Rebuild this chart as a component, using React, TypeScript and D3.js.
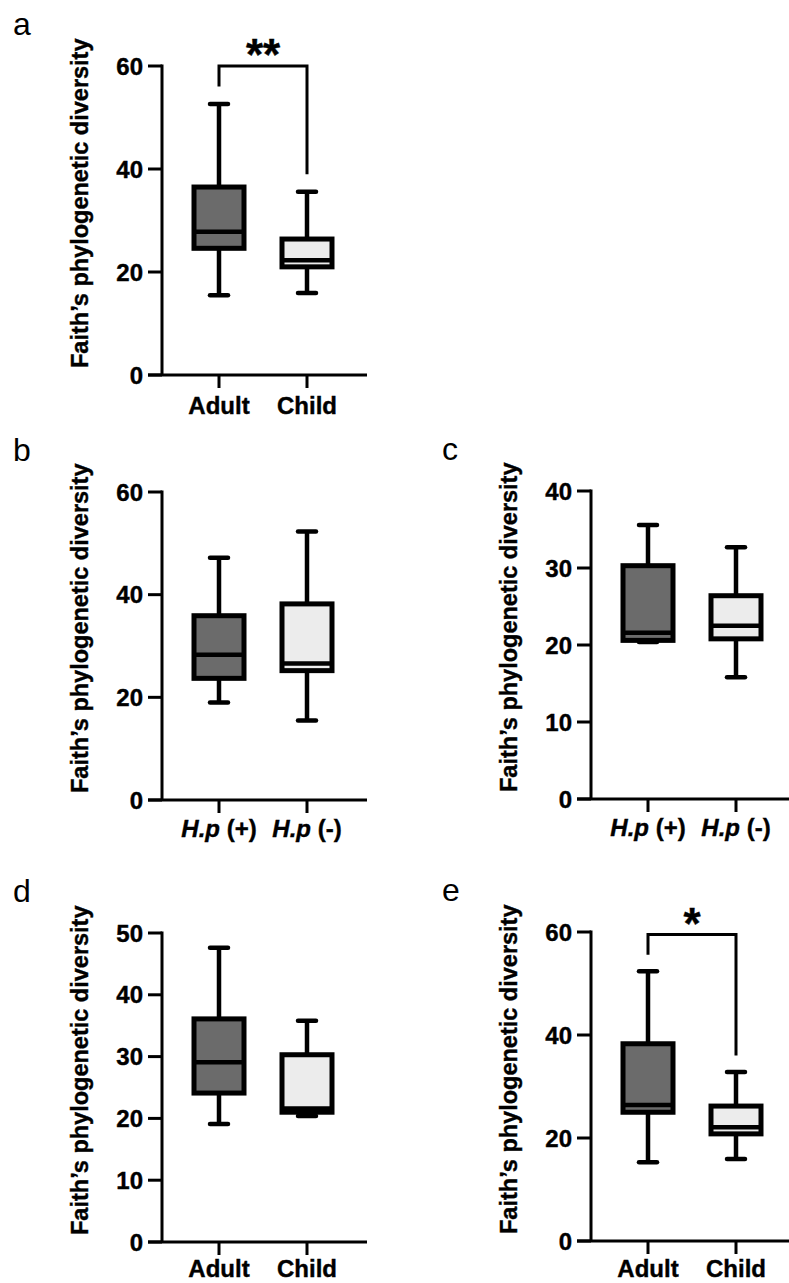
import { useEffect, useRef } from 'react'
import * as d3 from 'd3'

// box stats: [min, q1, median, q3, max]
const ageGroups = ['Adult', 'Child']
const hpGroups = ['H.p (+)', 'H.p (-)']

const statsA = [[15.5, 24.6, 27.8, 36.5, 52.6], [15.9, 21.0, 22.3, 26.4, 35.6]]
const statsB = [[19.0, 23.7, 28.3, 35.9, 47.2], [15.5, 25.2, 26.6, 38.2, 52.3]]
const statsC = [[20.4, 20.6, 21.6, 30.3, 35.6], [15.8, 20.8, 22.5, 26.4, 32.7]]
const statsD = [[19.1, 24.1, 29.1, 36.1, 47.6], [20.4, 21.0, 21.6, 30.3, 35.8]]
const statsE = [[15.3, 25.0, 26.4, 38.3, 52.4], [15.9, 20.8, 22.1, 26.2, 32.8]]

const ticks60 = [0, 20, 40, 60]
const ticks40 = [0, 10, 20, 30, 40]
const ticks50 = [0, 10, 20, 30, 40, 50]

// significance brackets: [bar level, left leg end, right leg end]
const sigA = { level: [60, 56, 39], text: '**' }
const sigE = { level: [59.5, 55.6, 36], text: '*' }

const fills = ['#6b6b6b', '#ececec']
const FONT = 'Liberation Sans, Arial, Helvetica, sans-serif'
const W = 789, H = 1283

type Panel = {
  letter: string
  ax: number
  top: number
  bottom: number
  ticks: number[]
  groups: string[]
  stats: number[][]
  italic: boolean
  sig?: { level: number[]; text: string }
}

const panels: Panel[] = [
  { letter: 'a', ax: 162, top: 66, bottom: 375, ticks: ticks60, groups: ageGroups, stats: statsA, italic: false, sig: sigA },
  { letter: 'b', ax: 162, top: 492, bottom: 800, ticks: ticks60, groups: hpGroups, stats: statsB, italic: true },
  { letter: 'c', ax: 591, top: 491, bottom: 799, ticks: ticks40, groups: hpGroups, stats: statsC, italic: true },
  { letter: 'd', ax: 162, top: 933, bottom: 1242, ticks: ticks50, groups: ageGroups, stats: statsD, italic: false },
  { letter: 'e', ax: 591, top: 932, bottom: 1241, ticks: ticks60, groups: ageGroups, stats: statsE, italic: false, sig: sigE },
]

// bold text in the figure is a bit heavier than Liberation Bold
const heavy = (t: d3.Selection<any, any, any, any>) =>
  t.attr('font-family', FONT).attr('font-weight', 'bold')
    .attr('stroke', '#000').attr('stroke-width', 0.4)

function drawPanel(svg: d3.Selection<SVGSVGElement, unknown, null, undefined>, p: Panel) {
  const g = svg.append('g')
  const yMax = p.ticks[p.ticks.length - 1]
  const y = d3.scaleLinear().domain([0, yMax]).range([p.bottom, p.top])
  const x = d3.scalePoint<string>().domain(p.groups).range([p.ax + 57, p.ax + 145])

  // panel letter
  g.append('text')
    .attr('x', p.ax - 149)
    .attr('y', p.top - 31)
    .attr('font-family', FONT)
    .attr('font-size', 32)
    .text(p.letter)

  // y axis label
  g.append('text')
    .attr('transform', `translate(${p.ax - 74},${p.bottom - 7}) rotate(-90)`)
    .attr('font-size', 23.5)
    .call(heavy)
    .text('Faith\u2019s phylogenetic diversity')

  // axes
  g.append('line')
    .attr('x1', p.ax).attr('x2', p.ax)
    .attr('y1', y(yMax) - 1.5).attr('y2', p.bottom)
    .attr('stroke', '#000').attr('stroke-width', 3)
  g.append('line')
    .attr('x1', p.ax - 14).attr('x2', p.ax + 205)
    .attr('y1', p.bottom).attr('y2', p.bottom)
    .attr('stroke', '#000').attr('stroke-width', 3)

  g.selectAll('.ytick')
    .data(p.ticks)
    .enter().append('line')
    .attr('x1', p.ax - 14).attr('x2', p.ax)
    .attr('y1', d => y(d)).attr('y2', d => y(d))
    .attr('stroke', '#000').attr('stroke-width', 3)

  g.selectAll('.ylab')
    .data(p.ticks)
    .enter().append('text')
    .attr('x', p.ax - 19)
    .attr('y', d => y(d))
    .attr('dy', '0.36em')
    .attr('text-anchor', 'end')
    .attr('font-size', 24)
    .call(heavy)
    .text(d => d)

  g.selectAll('.xtick')
    .data(p.groups)
    .enter().append('line')
    .attr('x1', d => x(d)!).attr('x2', d => x(d)!)
    .attr('y1', p.bottom).attr('y2', p.bottom + 13)
    .attr('stroke', '#000').attr('stroke-width', 3)

  // keep the bottom row's labels inside the picture
  const labelY = Math.min(p.bottom + (p.italic ? 37 : 39), H - 6)
  const xl = g.selectAll('.xlab')
    .data(p.groups)
    .enter().append('text')
    .attr('x', d => x(d)!)
    .attr('y', labelY)
    .attr('text-anchor', 'middle')
    .attr('font-size', 24)
    .call(heavy)
  if (p.italic) {
    xl.append('tspan').attr('font-style', 'italic').text(d => d.split(' ')[0])
    xl.append('tspan').text(d => ' ' + d.split(' ')[1])
  } else {
    xl.text(d => d)
  }

  // boxes
  p.groups.forEach((grp, i) => {
    const [mn, q1, md, q3, mx] = p.stats[i]
    const cx = x(grp)!
    const bw = 25
    g.append('line')
      .attr('x1', cx).attr('x2', cx).attr('y1', y(mx)).attr('y2', y(mn))
      .attr('stroke', '#000').attr('stroke-width', 4.5)
    g.selectAll(null)
      .data([mn, mx])
      .enter().append('line')
      .attr('x1', cx - 9).attr('x2', cx + 9)
      .attr('y1', d => y(d)).attr('y2', d => y(d))
      .attr('stroke', '#000').attr('stroke-width', 4.5).attr('stroke-linecap', 'round')
    g.append('rect')
      .attr('x', cx - bw).attr('width', bw * 2)
      .attr('y', y(q3)).attr('height', y(q1) - y(q3))
      .attr('fill', fills[i]).attr('stroke', '#000').attr('stroke-width', 5)
    g.append('line')
      .attr('x1', cx - bw).attr('x2', cx + bw).attr('y1', y(md)).attr('y2', y(md))
      .attr('stroke', '#000').attr('stroke-width', 4.5)
  })

  // significance bracket
  if (p.sig) {
    const [lvl, l, r] = p.sig.level
    const x1 = x(p.groups[0])!, x2 = x(p.groups[1])!
    g.append('path')
      .attr('d', `M${x1},${y(l)}V${y(lvl)}H${x2}V${y(r)}`)
      .attr('fill', 'none').attr('stroke', '#000').attr('stroke-width', 3)
    g.append('text')
      .attr('x', (x1 + x2) / 2)
      .attr('y', y(lvl) + 4)
      .attr('text-anchor', 'middle')
      .attr('font-size', 44)
      .call(heavy)
      .text(p.sig.text)
  }
}

export default function App() {
  const ref = useRef<SVGSVGElement>(null)

  useEffect(() => {
    if (!ref.current) return
    const svg = d3.select(ref.current)
    svg.selectAll('*').remove()
    svg.append('rect').attr('width', W).attr('height', H).attr('fill', '#fff')
    panels.forEach(p => drawPanel(svg, p))
  }, [])

  return (
    <svg ref={ref} width={W} height={H}
      style={{ position: 'absolute', left: 0, top: 0, display: 'block' }} />
  )
}
